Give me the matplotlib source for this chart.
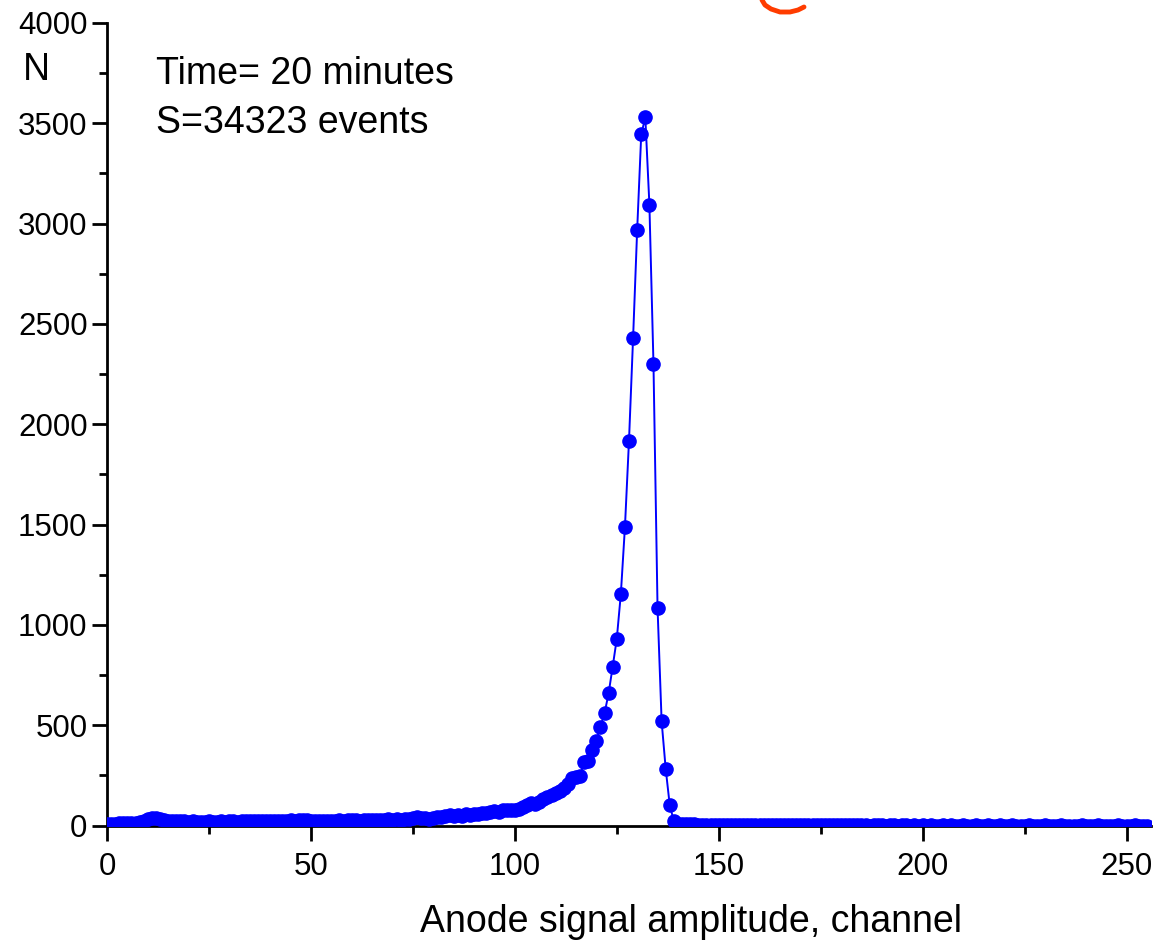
import numpy as np
import matplotlib
matplotlib.use("Agg")
import matplotlib.pyplot as plt
from matplotlib.lines import Line2D

# counts per channel (channel 0 .. 255)
counts = [
    8, 9, 9, 10, 10, 11, 12, 14, 17, 24,
    33, 37, 35, 30, 27, 24, 22, 21, 20, 20,
    19, 20, 19, 18, 19, 20, 19, 18, 20, 19,
    20, 21, 19, 20, 21, 22, 20, 21, 22, 21,
    23, 22, 24, 23, 24, 25, 24, 26, 27, 25,
    24, 22, 21, 22, 23, 24, 23, 25, 24, 25,
    26, 25, 24, 26, 27, 28, 27, 29, 28, 30,
    29, 31, 28, 32, 30, 35, 41, 36, 38, 34,
    39, 42, 44, 48, 51, 47, 52, 49, 55, 53,
    58, 56, 62, 60, 66, 70, 68, 77, 75, 79,
    78, 84, 93, 100, 112, 107, 118, 130, 141, 150,
    162, 170, 188, 205, 235, 240, 249, 315, 322, 375,
    423, 493, 559, 659, 792, 930, 1154, 1486, 1919, 2429,
    2967, 3445, 3530, 3095, 2302, 1084, 519, 282, 100, 22,
    9, 7, 6, 5, 5, 4, 4, 4, 3, 3,
    3, 3, 2, 3, 2, 3, 2, 2, 3, 2,
    2, 2, 3, 2, 2, 1, 2, 2, 1, 2,
    2, 1, 2, 1, 1, 2, 1, 1, 2, 1,
    1, 1, 1, 2, 1, 1, 1, 0, 1, 1,
    1, 0, 1, 1, 0, 1, 1, 0, 1, 0,
    1, 0, 1, 0, 0, 1, 0, 1, 0, 0,
    1, 0, 0, 1, 0, 0, 1, 0, 0, 1,
    0, 0, 1, 0, 0, 0, 1, 0, 0, 0,
    1, 0, 0, 0, 1, 0, 0, 0, 0, 1,
    0, 0, 0, 1, 0, 0, 0, 0, 1, 0,
    0, 0, 1, 0, 0, 0,
]

x_ticks = [0, 50, 100, 150, 200, 250]
y_ticks = [0, 500, 1000, 1500, 2000, 2500, 3000, 3500, 4000]
info_lines = ["Time= 20 minutes", "S=34323 events"]

plt.rcParams['font.family'] = ['Liberation Sans', 'DejaVu Sans']

W, H = 1154, 944
fig = plt.figure(figsize=(W / 100, H / 100), dpi=100)
ax = fig.add_axes([107 / W, 1 - 825.5 / H, (1151 - 107) / W, (825.5 - 23) / H])

channels = np.arange(len(counts))
ax.plot(channels, counts, '-o', color='#0000FF', lw=1.4, ms=9.5,
        mec='#0000FF', mfc='#0000FF', zorder=3)

ax.set_xlim(0, 256)
ax.set_ylim(0, 4000)
ax.set_xticks(x_ticks)
ax.set_yticks(y_ticks)
ax.set_xticks(np.arange(25, 256, 50), minor=True)
ax.set_yticks(np.arange(250, 4000, 500), minor=True)

for s in ['top', 'right']:
    ax.spines[s].set_visible(False)
for s in ['left', 'bottom']:
    ax.spines[s].set_linewidth(2.0)

ax.tick_params(which='major', direction='out', length=11, width=2.0, labelsize=22.5)
ax.tick_params(axis='x', which='major', pad=8)
ax.tick_params(axis='y', which='major', pad=3)
ax.tick_params(which='minor', direction='out', length=5.5, width=2.0)

# axis title sits a bit right of centre in the original
fig.text(420 / W, 1 - 932 / H, 'Anode signal amplitude, channel', fontsize=27,
         ha='left', va='baseline')

fig.text(36 / W, 1 - 80 / H, 'N', fontsize=27, ha='center', va='baseline')
fig.text(156 / W, 1 - 84 / H, info_lines[0], fontsize=27, ha='left', va='baseline')
fig.text(156 / W, 1 - 133 / H, info_lines[1], fontsize=27, ha='left', va='baseline')

# bit of a red handwritten stroke cut off at the top edge
px = [762, 765, 771, 780, 790, 798, 804]
py = [0, 5, 9, 12, 12, 10, 7]
fig.add_artist(Line2D([p / W for p in px], [1 - q / H for q in py],
                      color='#FF3C00', lw=3.5, solid_capstyle='round'))

fig.savefig('out.png', dpi=100)
